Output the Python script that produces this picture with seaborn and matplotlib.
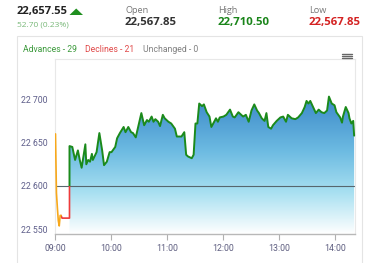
import numpy as np
import pandas as pd
import matplotlib
matplotlib.use("Agg")
import matplotlib.pyplot as plt
import seaborn as sns
from matplotlib.patches import Rectangle, Polygon
from matplotlib.lines import Line2D
from matplotlib.colors import LinearSegmentedColormap
from matplotlib.ticker import FuncFormatter, FixedLocator

# ---------------- data ----------------
pre_times = ["09:00", "09:01", "09:02", "09:03", "09:04", "09:05", "09:06"]
pre_values = [22660, 22592, 22575, 22560, 22554, 22566, 22566]

mkt_times = ["09:06", "09:07", "09:15", "09:15", "09:18", "09:21", "09:24", "09:26", "09:28",
             "09:32", "09:33", "09:35", "09:37", "09:39", "09:40", "09:44", "09:47", "09:50",
             "09:52", "09:55", "09:58", "10:00", "10:04", "10:06", "10:09", "10:13", "10:15",
             "10:18", "10:21", "10:23", "10:26", "10:29", "10:32", "10:35", "10:38", "10:40",
             "10:43", "10:45", "10:47", "10:50", "10:52", "10:55", "10:57", "11:01", "11:04",
             "11:08", "11:10", "11:15", "11:18", "11:20", "11:22", "11:26", "11:28", "11:30",
             "11:32", "11:34", "11:37", "11:39", "11:42", "11:45", "11:47", "11:49", "11:52",
             "11:54", "11:56", "12:00", "12:03", "12:07", "12:10", "12:12", "12:16", "12:19",
             "12:21", "12:24", "12:27", "12:30", "12:33", "12:36", "12:38", "12:41", "12:44",
             "12:46", "12:48", "12:51", "12:53", "12:57", "13:01", "13:04", "13:07", "13:09",
             "13:13", "13:17", "13:20", "13:24", "13:27", "13:29", "13:31", "13:33", "13:36",
             "13:39", "13:42", "13:45", "13:48", "13:51", "13:53", "13:56", "13:59", "14:01",
             "14:05", "14:07", "14:08", "14:11", "14:14", "14:15", "14:17", "14:19", "14:20"]
mkt_values = [22566, 22563, 22563, 22646, 22645, 22630, 22641, 22630, 22621,
              22648, 22625, 22630, 22628, 22637, 22630, 22639, 22661, 22641,
              22624, 22628, 22639, 22639, 22645, 22655, 22661, 22668, 22662,
              22668, 22662, 22661, 22656, 22670, 22684, 22670, 22676, 22674,
              22680, 22674, 22677, 22674, 22669, 22682, 22678, 22674, 22672,
              22666, 22657, 22657, 22662, 22636, 22634, 22632, 22636, 22672,
              22672, 22695, 22692, 22694, 22685, 22680, 22668, 22672, 22678,
              22674, 22679, 22680, 22682, 22688, 22680, 22679, 22685, 22682,
              22680, 22682, 22674, 22687, 22694, 22687, 22684, 22678, 22675,
              22684, 22668, 22666, 22670, 22675, 22679, 22680, 22674, 22682,
              22678, 22677, 22679, 22684, 22691, 22698, 22695, 22698, 22691,
              22684, 22688, 22685, 22684, 22687, 22703, 22695, 22693, 22685,
              22679, 22673, 22680, 22691, 22684, 22678, 22672, 22675, 22658]

baseline = 22600
hour_labels = ["09:00", "10:00", "11:00", "12:00", "13:00", "14:00"]
y_ticks = [22550, 22600, 22650, 22700]

last_price = "22,657.55"
change_text = "52.70 (0.23%)"
open_price = "22,567.85"
high_price = "22,710.50"
low_price = "22,567.85"
breadth = [("Advances - 29", "#3c9a3c"), ("Declines - 21", "#e04848"), ("Unchanged - 0", "#808080")]


def to_min(t):
    h, m = map(int, t.split(":"))
    return (h - 9) * 60 + m


pre = pd.DataFrame({"t": [to_min(t) for t in pre_times], "v": pre_values})
mkt = pd.DataFrame({"t": [to_min(t) for t in mkt_times], "v": mkt_values})

# ---------------- figure ----------------
sns.set_theme(style="white")
plt.rcParams["font.family"] = ["Roboto", "DejaVu Sans"]

W, H = 373, 263
fig = plt.figure(figsize=(W / 100, H / 100), dpi=100)
fig.patch.set_facecolor("white")


def fx(px):
    return px / W


def fy(py):
    return 1 - py / H


# outer container box
fig.patches.append(Rectangle((fx(17), fy(290)), fx(362) - fx(17), fy(35.7) - fy(290),
                             transform=fig.transFigure, facecolor="none",
                             edgecolor="#e4e4e4", lw=0.8))

ax = fig.add_axes([fx(55.5), fy(234), fx(354.7) - fx(55.5), fy(59) - fy(234)])
ax.set_facecolor("white")
xmin, xmax = 0, 320.6
ymin, ymax = 22544.7, 22746.3

# gradient fill under the green (market) part
fill = mkt.iloc[3:]
poly = ax.fill_between(fill["t"], fill["v"], ymin, facecolor="none", edgecolor="none")
cmap = LinearSegmentedColormap.from_list(
    "g", [(0, "#3a88c8"), (0.4, "#6dbbe2"), (0.7, "#a8e0f1"), (1, "#ffffff")])
grad = np.linspace(0, 1, 256).reshape(-1, 1)
im = ax.imshow(grad, cmap=cmap, aspect="auto", origin="upper",
               extent=[xmin, xmax, ymin, fill["v"].max()], zorder=1)
im.set_clip_path(poly.get_paths()[0], transform=ax.transData)

# baseline
ax.axhline(baseline, color="#56666e", lw=0.8, zorder=2)

# market line: red below baseline, green above
sns.lineplot(data=mkt, x="t", y="v", estimator=None, sort=False, color="#ee3b3b",
             lw=1.2, ax=ax, zorder=3)
red_line = ax.lines[-1]
red_line.set_clip_path(Rectangle((-50, ymin - 100), 500, baseline - ymin + 100,
                                 transform=ax.transData))
sns.lineplot(data=mkt, x="t", y="v", estimator=None, sort=False, color="#1b8a1b",
             lw=1.4, ax=ax, zorder=4)
green_line = ax.lines[-1]
green_line.set_clip_path(Rectangle((-50, baseline), 500, 500, transform=ax.transData))

# pre-open line
sns.lineplot(data=pre, x="t", y="v", estimator=None, sort=False, color="#f7a81b",
             lw=1.2, ax=ax, zorder=5)

ax.set_xlim(xmin, xmax)
ax.set_ylim(ymin, ymax)
ax.set_xlabel("")
ax.set_ylabel("")

ax.xaxis.set_major_locator(FixedLocator([to_min(t) for t in hour_labels]))
ax.set_xticklabels(hour_labels)
ax.yaxis.set_major_locator(FixedLocator(y_ticks))
ax.yaxis.set_major_formatter(FuncFormatter(lambda v, p: f"{int(v):,}".replace(",", " ")))
ax.tick_params(axis="x", direction="out", length=4, width=0.8, color="#b0b0b0",
               labelsize=6.3, labelcolor="#5e5e80", pad=3, bottom=True)
ax.tick_params(axis="y", length=0, labelsize=6.3, labelcolor="#5e5e8a", pad=6)
for s in ["top", "left", "right"]:
    ax.spines[s].set_color("#e8e8e8")
    ax.spines[s].set_linewidth(0.8)
ax.spines["bottom"].set_color("#b8b8b8")
ax.spines["bottom"].set_linewidth(1.0)
ax.grid(False)

# ---------------- header ----------------
hdr = ["Open Sans", "DejaVu Sans"]
fig.text(fx(17), fy(11.5), last_price, fontsize=8, fontweight="bold", color="#222222",
         family=hdr, va="center", ha="left")
fig.patches.append(Polygon([[fx(69.5), fy(15)], [fx(83), fy(15)], [fx(76.2), fy(8.5)]],
                           closed=True, transform=fig.transFigure, facecolor="#1f8f1f",
                           edgecolor="none"))
fig.text(fx(17), fy(24.5), change_text, fontsize=6, color="#78b878", family=hdr,
         va="center", ha="left")

for xpos, label, val, col in [(125, "Open", open_price, "#333333"),
                              (218, "High", high_price, "#1a851a"),
                              (309, "Low", low_price, "#d42222")]:
    fig.text(fx(xpos), fy(10.5), label, fontsize=6.6, color="#777777", family=hdr,
             va="center", ha="left")
    fig.text(fx(xpos), fy(23), val, fontsize=8.2, fontweight="bold", color=col,
             family=hdr, va="center", ha="left")

# breadth labels
for xpos, (txt, col) in zip([23, 85, 143], breadth):
    fig.text(fx(xpos), fy(49.5), txt, fontsize=6.2, color=col, va="center", ha="left")

# hamburger menu icon
for yy in [53.7, 55.7, 57.7]:
    fig.add_artist(Line2D([fx(342), fx(352)], [fy(yy), fy(yy)], transform=fig.transFigure,
                          color="#666666", lw=1.0))

fig.savefig("out.png", dpi=100, facecolor="white")
